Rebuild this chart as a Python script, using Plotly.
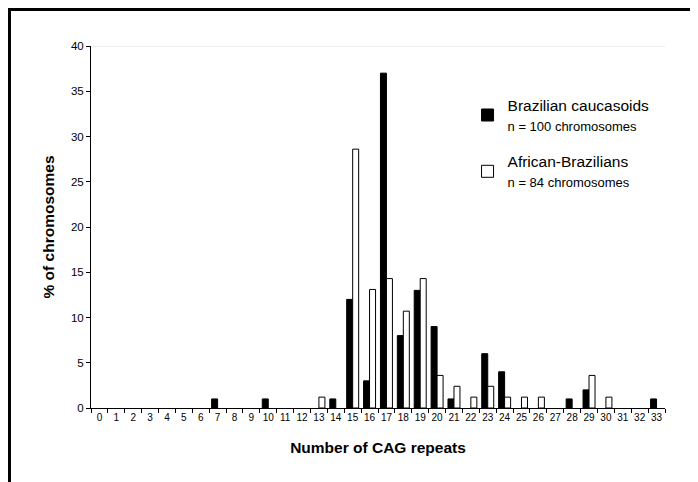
import plotly.graph_objects as go

repeats = [str(i) for i in range(34)]

cauc_x = ["7", "10", "14", "15", "16", "17", "18", "19", "20", "21", "23", "24", "28", "29", "33"]
cauc_y = [1, 1, 1, 12, 3, 37, 8, 13, 9, 1, 6, 4, 1, 2, 1]

afr_x = ["13", "15", "16", "17", "18", "19", "20", "21", "22", "23", "24", "25", "26", "29", "30"]
afr_y = [1.2, 28.6, 13.1, 14.3, 10.7, 14.3, 3.6, 2.4, 1.2, 2.4, 1.2, 1.2, 1.2, 3.6, 1.2]

y_ticks = [0, 5, 10, 15, 20, 25, 30, 35, 40]

font_family = "Liberation Sans, Arial, sans-serif"

fig = go.Figure()
fig.add_trace(go.Bar(
    x=cauc_x, y=cauc_y, legendgroup="a",
    name="Brazilian caucasoids<br><span style='font-size:13px'>n = 100 chromosomes</span>",
    marker=dict(color="black", line=dict(color="black", width=1)),
))
fig.add_trace(go.Bar(
    x=afr_x, y=afr_y, legendgroup="b",
    name="African-Brazilians<br><span style='font-size:13px'>n = 84 chromosomes</span>",
    marker=dict(color="white", line=dict(color="black", width=1)),
))

fig.update_layout(
    width=690, height=474,
    margin=dict(l=83, r=33, t=38, b=74, pad=0),
    paper_bgcolor="white", plot_bgcolor="white",
    font=dict(family=font_family, color="black"),
    barmode="group", bargap=0.29, bargroupgap=0.0,
    showlegend=True,
    legend=dict(
        x=0.656, y=0.883, xanchor="left", yanchor="top",
        font=dict(size=15.5, family=font_family),
        bgcolor="rgba(0,0,0,0)",
        tracegroupgap=13,
        itemwidth=30,
    ),
    xaxis=dict(
        type="category", categoryorder="array", categoryarray=repeats,
        tickmode="array", tickvals=repeats, ticktext=repeats,
        tickson="boundaries", ticks="outside", ticklen=4, tickcolor="black",
        tickangle=0, automargin=False,
        showline=True, linecolor="black", linewidth=1,
        showgrid=False, zeroline=False,
        tickfont=dict(size=10),
        title=dict(text="<b>Number of CAG repeats</b>", font=dict(size=15.5), standoff=20),
        range=[-0.5, 33.5],
    ),
    yaxis=dict(
        range=[0, 40], tickmode="array", tickvals=y_ticks,
        ticks="outside", ticklen=4, tickcolor="black", automargin=False,
        showline=True, linecolor="black", linewidth=1,
        showgrid=False, zeroline=False,
        tickfont=dict(size=11.5),
        title=dict(text="<b>% of chromosomes</b>", font=dict(size=15.5), standoff=12),
    ),
    shapes=[
        dict(type="line", xref="paper", yref="y", x0=0, x1=1, y0=40, y1=40,
             line=dict(color="#e0e0e0", width=1), layer="below"),
        dict(type="rect", xref="paper", yref="paper",
             x0=-0.142, x1=1.2, y0=-0.4, y1=1.1008,
             line=dict(color="black", width=3), fillcolor="rgba(0,0,0,0)"),
    ],
)

fig.write_html("out.html")
